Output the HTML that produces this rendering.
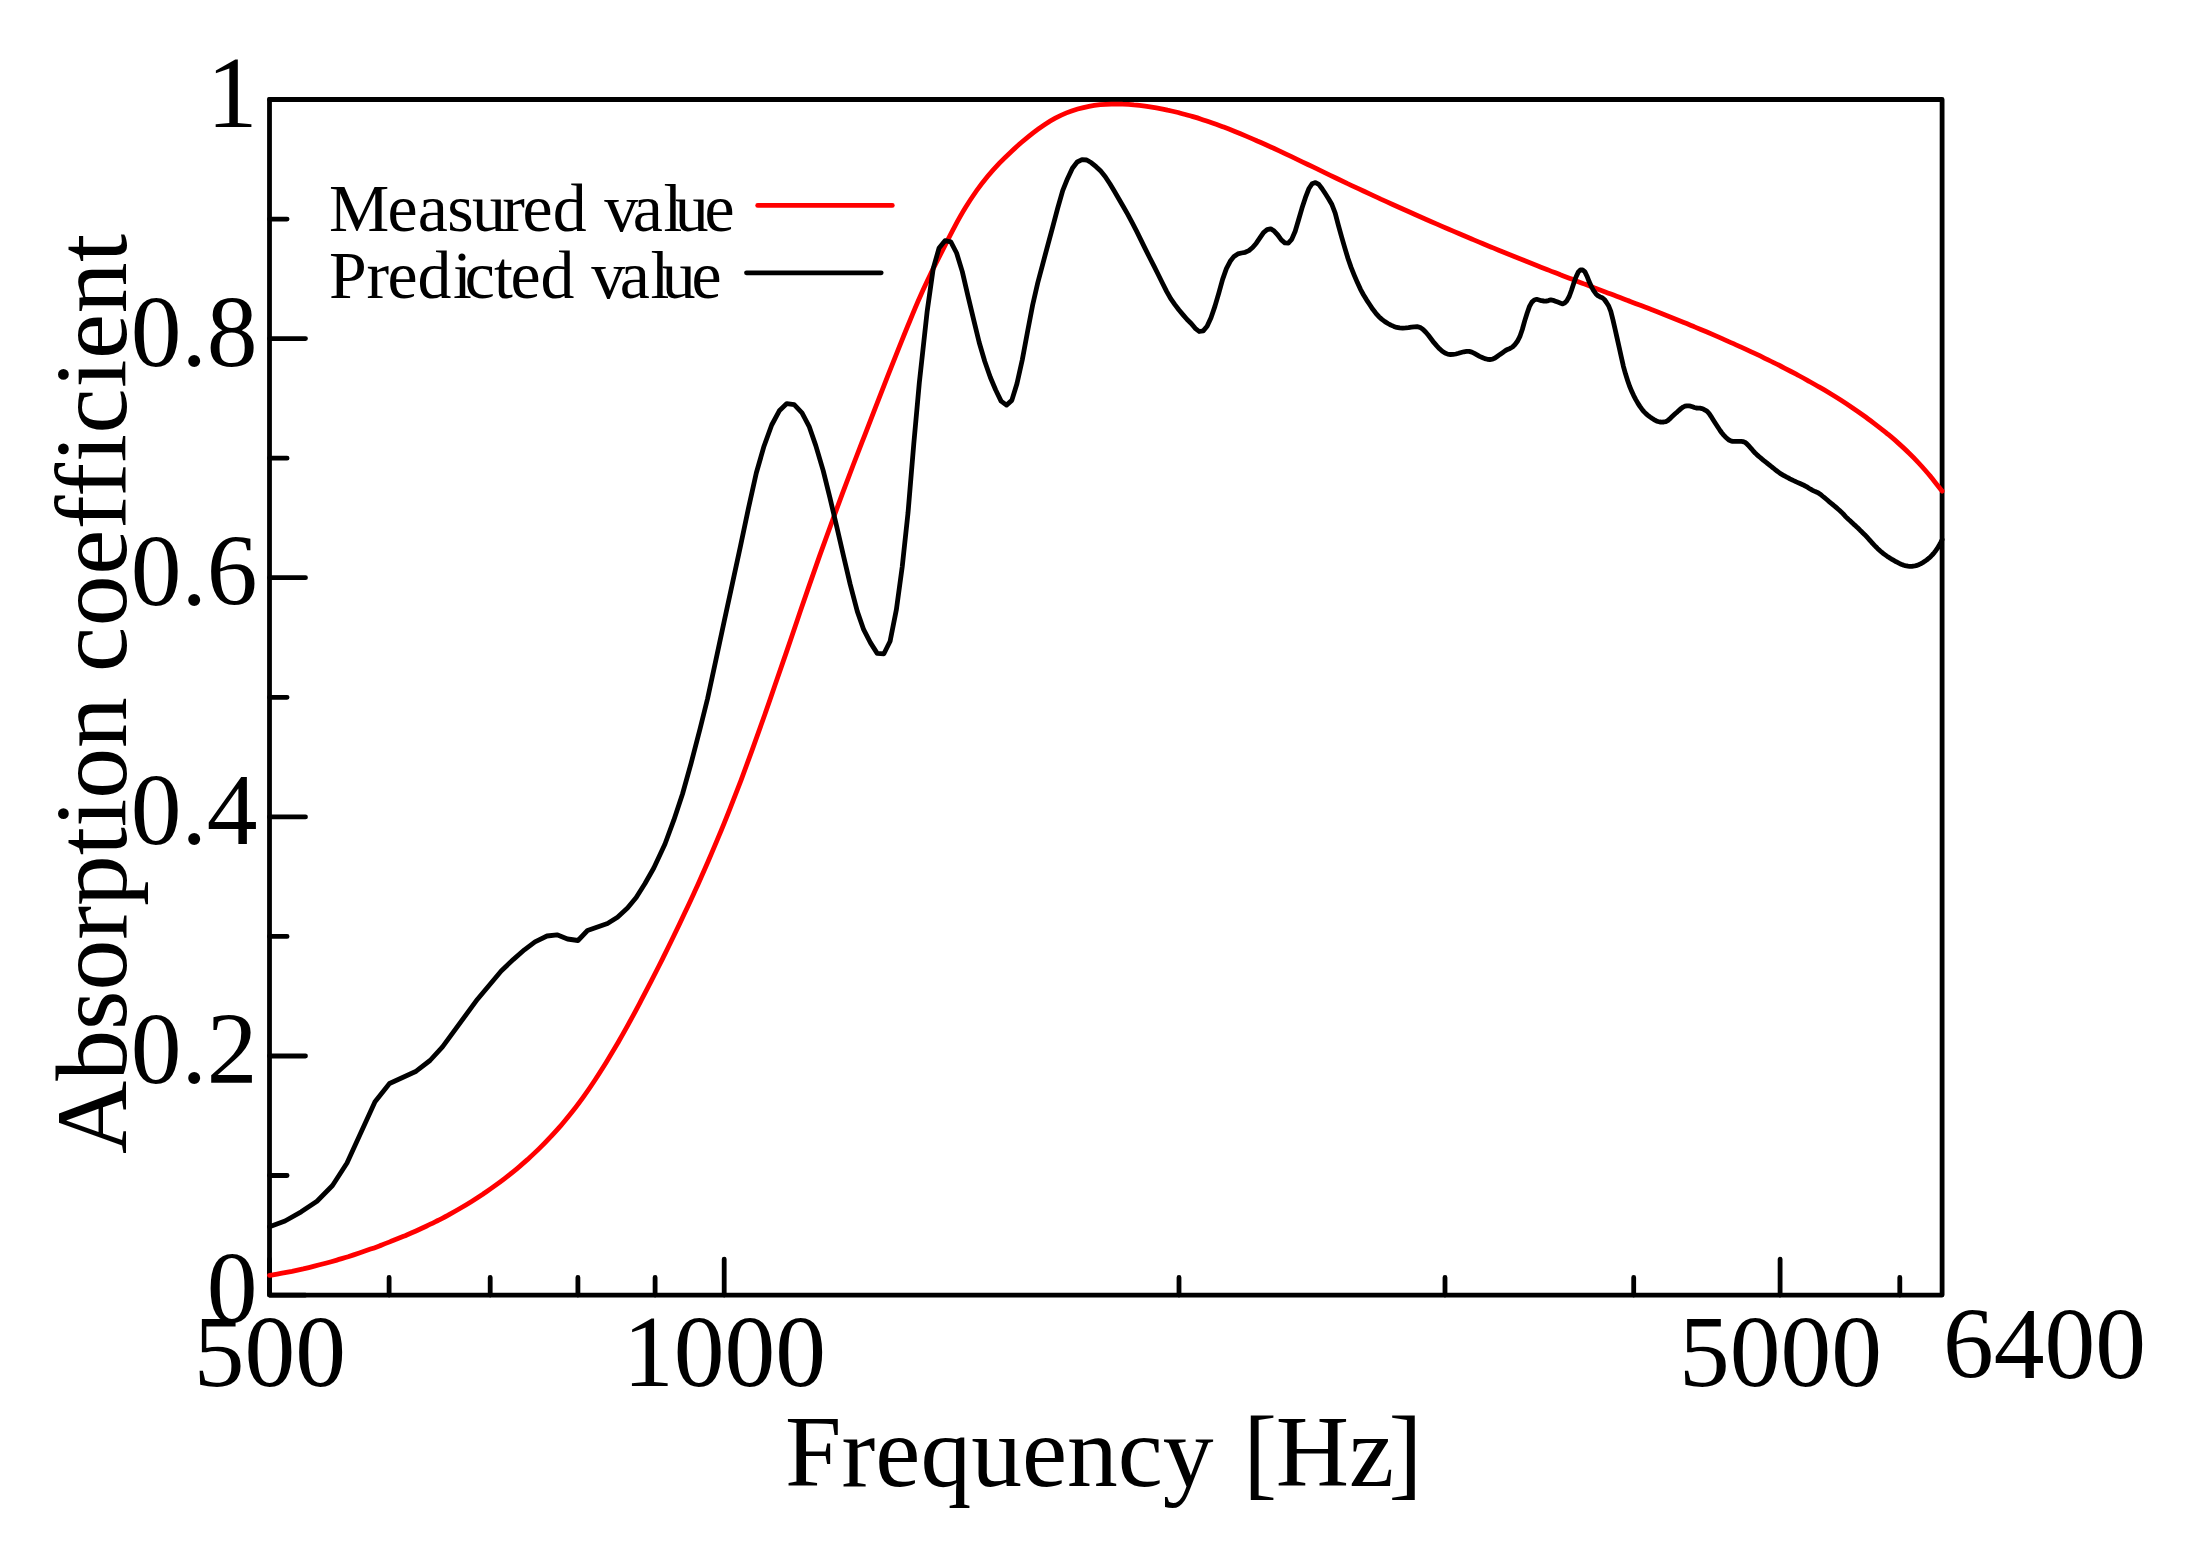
<!DOCTYPE html>
<html lang="en">
<head>
<meta charset="utf-8">
<title>Absorption coefficient vs frequency</title>
<style>
html,body{margin:0;padding:0;background:#fff;}
body{width:2196px;height:1556px;overflow:hidden;}
svg{display:block;}
text{font-family:"Liberation Serif","Times New Roman",Times,serif;fill:#000;}
.tick{font-size:101.5px;}
.key{font-size:67.8px;}
.ln{fill:none;stroke-width:4.8;stroke-linecap:round;stroke-linejoin:round;}
</style>
</head>
<body>
<svg width="2196" height="1556" viewBox="0 0 2196 1556">
<rect x="0" y="0" width="2196" height="1556" fill="#fff"/>
<path class="ln" stroke="#000" d="M269.5 1295.1h36M269.5 1175.5h17.6M269.5 1056h36M269.5 936.4h17.6M269.5 816.9h36M269.5 697.3h17.6M269.5 577.7h36M269.5 458.2h17.6M269.5 338.6h36M269.5 219.1h17.6M269.5 99.5h36M269.5 1295.1v-36M389.1 1295.1v-17.6M490.2 1295.1v-17.6M577.9 1295.1v-17.6M655.1 1295.1v-17.6M724.2 1295.1v-36M1179 1295.1v-17.6M1445 1295.1v-17.6M1633.7 1295.1v-17.6M1780.1 1295.1v-36M1899.8 1295.1v-17.6"/>
<rect class="ln" stroke="#000" stroke-linejoin="miter" x="269.5" y="99.5" width="1672.6" height="1195.6"/>
<path class="ln" stroke="#f00" d="M269.5 1275.4C271.4 1275.1 277 1274.1 280.7 1273.4C284.5 1272.7 288.2 1272 292 1271.3C295.7 1270.5 299.4 1269.7 303.2 1268.9C306.9 1268 310.7 1267.1 314.4 1266.2C318.1 1265.3 321.9 1264.3 325.6 1263.3C329.4 1262.2 333.1 1261.2 336.9 1260.1C340.6 1259 344.3 1257.8 348.1 1256.7C351.8 1255.5 355.6 1254.2 359.3 1253C363 1251.7 366.8 1250.4 370.5 1249.1C374.3 1247.8 378 1246.4 381.8 1245C385.5 1243.6 389.2 1242.1 393 1240.6C396.7 1239.1 400.5 1237.6 404.2 1236.1C407.9 1234.5 411.7 1232.9 415.4 1231.2C419.2 1229.5 422.9 1227.8 426.7 1226C430.4 1224.3 434.1 1222.4 437.9 1220.5C441.6 1218.6 445.4 1216.7 449.1 1214.6C452.8 1212.6 456.6 1210.5 460.3 1208.3C464.1 1206.1 467.8 1203.9 471.6 1201.5C475.3 1199.2 479 1196.8 482.8 1194.3C486.5 1191.7 490.3 1189.1 494 1186.4C497.8 1183.7 501.5 1181 505.2 1178.1C509 1175.2 512.7 1172.2 516.5 1169.1C520.2 1166 523.9 1162.7 527.7 1159.4C531.4 1156 535.2 1152.5 538.9 1148.9C542.7 1145.2 546.4 1141.4 550.1 1137.4C553.9 1133.5 557.6 1129.3 561.4 1125C565.1 1120.6 568.8 1116.1 572.6 1111.3C576.3 1106.5 580.1 1101.5 583.8 1096.3C587.6 1091.1 591.3 1085.6 595 1080C598.8 1074.3 602.5 1068.4 606.3 1062.3C610 1056.2 613.7 1049.9 617.5 1043.5C621.2 1037 625 1030.4 628.7 1023.6C632.5 1016.8 636.2 1009.8 639.9 1002.8C643.7 995.7 647.4 988.5 651.2 981.2C654.9 974 658.7 966.5 662.4 959.1C666.1 951.6 669.9 944 673.6 936.3C677.4 928.6 681.1 920.8 684.8 912.8C688.6 904.9 692.3 896.8 696.1 888.6C699.8 880.3 703.6 871.9 707.3 863.3C711 854.7 714.8 845.9 718.5 836.9C722.3 827.9 726 818.7 729.7 809.3C733.5 799.8 737.2 790.1 741 780.3C744.7 770.4 748.5 760.2 752.2 749.9C755.9 739.6 759.7 729.1 763.4 718.5C767.2 707.9 770.9 697.2 774.6 686.3C778.4 675.5 782.1 664.5 785.9 653.6C789.6 642.7 793.4 631.6 797.1 620.7C800.8 609.8 804.6 598.8 808.3 588.1C812.1 577.3 815.8 566.6 819.5 556.1C823.3 545.6 827 535.2 830.8 525C834.5 514.8 838.3 504.7 842 494.7C845.7 484.7 849.5 474.8 853.2 465C857 455.2 860.7 445.5 864.5 435.8C868.2 426.1 871.9 416.4 875.7 406.8C879.4 397.2 883.2 387.7 886.9 378.2C890.6 368.7 894.4 359.2 898.1 349.9C901.9 340.5 905.6 331 909.4 322C913.1 312.9 916.8 303.9 920.6 295.5C924.3 287.1 928.1 279.3 931.8 271.6C935.5 263.9 939.3 256.8 943 249.4C946.8 242 950.5 234.3 954.3 227.3C958 220.3 961.7 213.6 965.5 207.5C969.2 201.4 973 195.8 976.7 190.5C980.4 185.3 984.2 180.5 987.9 176C991.7 171.5 995.4 167.4 999.2 163.4C1002.9 159.5 1006.6 155.9 1010.4 152.4C1014.1 148.9 1017.9 145.5 1021.6 142.3C1025.4 139.1 1029.1 136 1032.8 133.1C1036.6 130.2 1040.3 127.5 1044.1 125C1047.8 122.5 1051.5 120.2 1055.3 118.2C1059 116.2 1062.8 114.4 1066.5 112.9C1070.3 111.3 1074 110.1 1077.7 109C1081.5 107.9 1085.2 107 1089 106.3C1092.7 105.6 1096.4 105.1 1100.2 104.7C1103.9 104.4 1107.7 104.2 1111.4 104.1C1115.2 104 1118.9 104 1122.6 104.2C1126.4 104.3 1130.1 104.5 1133.9 104.9C1137.6 105.2 1141.3 105.6 1145.1 106.1C1148.8 106.6 1152.6 107.2 1156.3 107.8C1160.1 108.5 1163.8 109.2 1167.5 110.1C1171.3 110.9 1175 111.8 1178.8 112.7C1182.5 113.7 1186.2 114.7 1190 115.8C1193.7 116.9 1197.5 118 1201.2 119.2C1205 120.4 1208.7 121.7 1212.4 123C1216.2 124.3 1219.9 125.7 1223.7 127.1C1227.4 128.5 1231.2 130 1234.9 131.5C1238.6 133 1242.4 134.6 1246.1 136.1C1249.9 137.7 1253.6 139.3 1257.3 141C1261.1 142.6 1264.8 144.3 1268.6 146C1272.3 147.7 1276.1 149.4 1279.8 151.1C1283.5 152.9 1287.3 154.7 1291 156.4C1294.8 158.2 1298.5 160 1302.2 161.8C1306 163.6 1309.7 165.4 1313.5 167.2C1317.2 169 1321 170.8 1324.7 172.6C1328.4 174.4 1332.2 176.2 1335.9 178C1339.7 179.8 1343.4 181.6 1347.1 183.4C1350.9 185.1 1354.6 186.9 1358.4 188.7C1362.1 190.4 1365.9 192.2 1369.6 193.9C1373.3 195.6 1377.1 197.3 1380.8 199.1C1384.6 200.8 1388.3 202.5 1392.1 204.2C1395.8 205.9 1399.5 207.6 1403.3 209.3C1407 210.9 1410.8 212.6 1414.5 214.3C1418.2 215.9 1422 217.6 1425.7 219.2C1429.5 220.9 1433.2 222.5 1437 224.1C1440.7 225.8 1444.4 227.4 1448.2 229C1451.9 230.6 1455.7 232.2 1459.4 233.8C1463.1 235.4 1466.9 237 1470.6 238.5C1474.4 240.1 1478.1 241.7 1481.9 243.2C1485.6 244.8 1489.3 246.3 1493.1 247.9C1496.8 249.4 1500.6 251 1504.3 252.5C1508 254 1511.8 255.5 1515.5 257C1519.3 258.5 1523 260 1526.8 261.5C1530.5 263 1534.2 264.5 1538 266C1541.7 267.5 1545.5 268.9 1549.2 270.4C1552.9 271.9 1556.7 273.3 1560.4 274.8C1564.2 276.2 1567.9 277.7 1571.7 279.1C1575.4 280.5 1579.1 282 1582.9 283.4C1586.6 284.8 1590.4 286.2 1594.1 287.7C1597.9 289.1 1601.6 290.5 1605.3 291.9C1609.1 293.3 1612.8 294.8 1616.6 296.2C1620.3 297.6 1624 299 1627.8 300.5C1631.5 301.9 1635.3 303.3 1639 304.8C1642.8 306.2 1646.5 307.7 1650.2 309.1C1654 310.6 1657.7 312.1 1661.5 313.5C1665.2 315 1668.9 316.5 1672.7 318C1676.4 319.5 1680.2 321 1683.9 322.5C1687.7 324 1691.4 325.6 1695.1 327.1C1698.9 328.7 1702.6 330.2 1706.4 331.8C1710.1 333.4 1713.8 335 1717.6 336.6C1721.3 338.3 1725.1 339.9 1728.8 341.6C1732.6 343.2 1736.3 344.9 1740 346.6C1743.8 348.3 1747.5 350 1751.3 351.8C1755 353.6 1758.8 355.3 1762.5 357.1C1766.2 359 1770 360.8 1773.7 362.7C1777.5 364.5 1781.2 366.4 1784.9 368.3C1788.7 370.3 1792.4 372.2 1796.2 374.2C1799.9 376.2 1803.7 378.2 1807.4 380.3C1811.1 382.4 1814.9 384.5 1818.6 386.7C1822.4 388.8 1826.1 391 1829.8 393.3C1833.6 395.6 1837.3 397.9 1841.1 400.3C1844.8 402.7 1848.6 405.2 1852.3 407.7C1856 410.2 1859.8 412.8 1863.5 415.5C1867.3 418.2 1871 421 1874.7 423.8C1878.5 426.7 1882.2 429.6 1886 432.6C1889.7 435.7 1893.5 438.8 1897.2 442.1C1900.9 445.4 1904.7 448.8 1908.4 452.5C1912.2 456.1 1915.9 459.9 1919.6 464C1923.4 468.1 1927.1 472.4 1930.9 476.9C1934.6 481.5 1940.2 488.7 1942.1 491.1"/>
<path class="ln" stroke="#000" d="M269.5 1226.8L285 1221L301.2 1211.8L317 1201.2L332.5 1185.5L347 1163L375 1101.8L389.5 1083.5L416.2 1071.2L430 1060.5L442.5 1046.8L477.5 999.2L501.2 971L513.2 959.6L524.4 949.8L535 941.8L547 936L557 934.8L567.5 939L578 940.5L587.5 930.5L607.5 923.5L617.5 917.2L627.5 908L636.2 897.5L645 883.5L653.8 868L665 844L673.8 820.2L682.5 794L691.2 762.8L700 729L707.6 698.5L716 659.6L724.2 621.3L732.4 583.4L740.5 546.1L748.4 508.5L756.3 473L764 446.2L771.7 425L779.3 410.8L786.8 403.6L794.2 404.7L802 412.8L809.1 426.3L815.8 445.6L823.2 470.6L829.9 497.6L836.7 526.5L843.4 555.5L850.2 584.4L857.3 611.4L863.7 629.7L870.4 642.6L877.2 653.4L883.9 653.8L890.1 641.3L896.4 609.5L902.2 567L908 513.1L913.8 443.6L919.3 383L927.2 311.1L933.2 268.7L939.1 247.9L945 240.7L950.8 241.9L956.6 253L962.3 271.6L968 296.1L973.7 319.9L979.2 342.5L984.8 361.5L990.3 377.2L995.7 390L1001.1 401.1L1006.5 405.1L1011.8 400.4L1017 383.5L1022.3 359.8L1027.5 331.9L1032.6 305.3L1037.7 283L1042.8 263.8L1047.8 245.1L1052.8 226.6L1057.7 208.1L1062.7 190.6L1067.5 178.7L1072.4 168.2L1077.2 162L1082 159.7L1086.7 160L1091.4 162.8L1096.1 166.7L1100.7 171.1L1105.3 176.7L1109.9 183.7L1114.4 191.2L1118.9 199L1123.4 206.7L1127.9 214.6L1132.3 222.8L1136.7 231.4L1141 240.1L1145.3 248.9L1149.6 257.5L1153.9 265.9L1158.2 274.5L1162.4 283L1166.6 291.3L1170.7 298.7L1174.9 304.6L1179 310L1183.1 314.9L1187.1 319.5L1191.2 323.5L1195.2 328.3L1199.2 331.5L1203.2 330.9L1207.1 326.3L1211 317.8L1214.9 306.4L1218.8 293.1L1222.6 279.4L1226.4 268.6L1230.2 261.3L1234 256.4L1237.8 253.9L1241.5 253L1245.2 252.3L1248.9 250.6L1252.6 247.5L1256.3 243.2L1259.9 237.9L1263.5 232.6L1267.1 229.7L1270.7 228.8L1274.2 231.1L1277.8 235L1281.3 239.9L1284.8 242.9L1288.3 243.1L1291.7 239.4L1295.2 231.2L1298.6 219.7L1302 208.1L1305.4 197.7L1308.8 188.8L1312.1 183.8L1315.5 182.6L1318.8 184.4L1322.1 188.8L1325.4 193.8L1328.7 199L1331.9 204.5L1335.2 213.2L1338.4 225.3L1341.6 236.8L1344.8 247.9L1348 258.5L1351.1 267.4L1354.3 275.3L1357.4 282.6L1360.5 289.3L1363.6 295L1366.7 300.1L1369.8 304.8L1372.8 309.3L1375.9 313.3L1378.9 316.7L1381.9 319.4L1384.9 321.6L1387.9 323.5L1390.9 325.1L1393.9 326.4L1396.8 327.4L1399.7 327.9L1402.7 328.1L1405.6 327.9L1408.5 327.6L1411.4 327.1L1414.2 326.8L1417.1 326.7L1419.9 327.3L1422.8 329.2L1425.6 332L1428.4 335.3L1431.2 339L1434 342.7L1436.8 345.9L1439.5 348.8L1442.3 351.3L1445 353L1447.7 354.1L1450.5 354.5L1453.2 354.4L1455.9 354L1458.5 353.3L1461.2 352.5L1463.9 351.8L1466.5 351.4L1469.2 351.4L1471.8 352.1L1474.4 353.4L1477 354.9L1479.6 356.4L1482.2 357.5L1484.8 358.6L1487.4 359.3L1489.9 359.5L1492.5 359.2L1495 358L1497.5 356.2L1500 354.4L1502.5 352.7L1505 350.9L1507.5 349.4L1510 348.4L1512.5 347L1515 344.5L1517.4 341.3L1519.8 336.7L1522.3 329.5L1524.7 320.9L1527.1 313.2L1529.5 306.4L1531.9 302.1L1534.3 300L1536.7 299.3L1539.1 300L1541.4 300.7L1543.8 301L1546.1 301.2L1548.5 300.6L1550.8 299.8L1553.1 300.3L1555.4 301.2L1557.8 302.1L1560.1 303L1562.3 303.9L1564.6 303L1566.9 300.7L1569.2 296.5L1571.4 290.5L1573.7 283.4L1575.9 277.3L1578.2 272.2L1580.4 269.9L1582.6 270L1584.8 271.6L1587 276.2L1589.2 281.8L1591.4 286.6L1593.6 290.7L1595.8 293.7L1597.9 295.7L1600.1 296.9L1602.3 297.7L1604.4 299.5L1606.5 302.5L1608.7 306L1610.8 311.4L1612.9 319.6L1615 328.8L1617.1 338.1L1619.2 347.5L1621.3 357.1L1623.4 366.3L1625.5 373.8L1627.6 380.4L1629.6 386.3L1631.7 391.2L1633.7 395.6L1635.8 399.6L1637.8 403.1L1639.9 406.4L1641.9 409.2L1643.9 411.6L1645.9 413.6L1647.9 415.3L1649.9 416.9L1651.9 418.3L1653.9 419.6L1655.9 420.7L1657.9 421.5L1659.9 422L1661.8 422.1L1663.8 422L1665.8 421.6L1667.7 420.6L1669.7 418.9L1671.6 417.1L1673.5 415.3L1675.4 413.5L1677.4 411.8L1679.3 410.1L1681.2 408.4L1683.1 407.1L1685 406.2L1686.9 405.8L1688.8 405.9L1690.7 406.2L1692.5 406.8L1694.4 407.5L1696.3 408L1698.1 408.1L1700 408.2L1701.8 408.6L1703.7 409.3L1705.5 410.3L1707.4 411.6L1709.2 413.6L1711 416.3L1712.8 419.2L1714.7 422.2L1716.5 425L1718.3 427.8L1720.1 430.5L1721.9 433L1723.7 435.1L1725.4 436.9L1727.2 438.6L1729 440L1730.8 440.9L1732.5 441.3L1734.3 441.4L1736.1 441.4L1737.8 441.3L1739.5 441.3L1741.3 441.4L1743 441.6L1744.8 442.2L1746.5 443.5L1748.2 445.2L1749.9 447.1L1751.7 449.1L1753.4 451.2L1755.1 453L1756.8 454.6L1758.5 456.1L1760.2 457.5L1761.8 458.9L1763.5 460.3L1765.2 461.6L1766.9 463L1768.6 464.3L1770.2 465.6L1771.9 467L1773.6 468.3L1775.2 469.7L1776.9 471L1778.5 472.2L1780.1 473.4L1781.8 474.4L1783.4 475.3L1785 476.2L1786.7 477.1L1788.3 477.9L1789.9 478.8L1791.5 479.6L1793.1 480.4L1794.7 481.1L1796.3 481.9L1797.9 482.6L1799.5 483.3L1801.1 484L1802.7 484.7L1804.3 485.5L1805.9 486.3L1807.5 487.2L1809 488.2L1810.6 489.2L1812.2 490.1L1813.7 490.9L1815.3 491.6L1816.8 492.2L1818.4 493L1819.9 494L1821.5 495.2L1823 496.5L1824.5 497.7L1826.1 499L1827.6 500.3L1829.1 501.6L1830.6 502.8L1832.2 504.1L1833.7 505.4L1835.2 506.6L1836.7 507.9L1838.2 509.2L1839.7 510.5L1841.2 511.9L1842.7 513.4L1844.2 515L1845.6 516.6L1847.1 518.1L1848.6 519.5L1850.1 520.8L1851.6 522.2L1853 523.5L1854.5 524.9L1856 526.2L1857.4 527.6L1858.9 529L1860.3 530.4L1861.8 531.8L1863.2 533.3L1864.7 534.7L1866.1 536.2L1867.5 537.7L1869 539.3L1870.4 540.9L1871.8 542.5L1873.3 544.1L1874.7 545.6L1876.1 547L1877.5 548.4L1878.9 549.7L1880.3 551L1881.7 552.2L1883.1 553.3L1884.5 554.4L1885.9 555.4L1887.3 556.4L1888.7 557.3L1890.1 558.2L1891.5 559.1L1892.9 559.9L1894.3 560.7L1895.6 561.5L1897 562.2L1898.4 562.9L1899.8 563.6L1901.1 564.2L1902.5 564.7L1903.8 565.2L1905.2 565.6L1906.6 565.9L1907.9 566.2L1909.3 566.3L1910.6 566.4L1911.9 566.4L1913.3 566.2L1914.6 566L1916 565.7L1917.3 565.2L1918.6 564.7L1919.9 564.1L1921.3 563.5L1922.6 562.7L1923.9 561.9L1925.2 561L1926.5 560.1L1927.9 559L1929.2 557.9L1930.5 556.7L1931.8 555.4L1933.1 554L1934.4 552.4L1935.7 550.7L1937 548.9L1938.2 546.9L1939.5 544.7L1940.8 542.3L1942.1 539.7"/>
<path class="ln" stroke="#f00" d="M757.7 205.4H892.3"/>
<path class="ln" stroke="#000" d="M746.5 272.8H881.2"/>
<text class="key" y="231.1"><tspan x="328.9 387.4 417.7 447.3 472.1 502.2 522.6 552.8">Measured</tspan> <tspan x="604.2 632.8 663.6 674.7 704.6">value</tspan></text>
<text class="key" y="297.7"><tspan x="328.9 366.4 387.4 417.6 453.1 464.7 494 510.6 540.5">Predicted</tspan> <tspan x="591.2 619.8 650.6 661.7 691.6">value</tspan></text>
<text class="tick" text-anchor="end" x="257.5" y="1322.1">0</text>
<text class="tick" text-anchor="end" x="257.5" y="1083">0.2</text>
<text class="tick" text-anchor="end" x="257.5" y="843.9">0.4</text>
<text class="tick" text-anchor="end" x="257.5" y="604.7">0.6</text>
<text class="tick" text-anchor="end" x="257.5" y="365.6">0.8</text>
<text class="tick" text-anchor="end" x="257.5" y="126.5">1</text>
<text class="tick" text-anchor="middle" x="269.8" y="1385.5">500</text>
<text class="tick" text-anchor="middle" x="724.5" y="1385.5">1000</text>
<text class="tick" text-anchor="middle" x="1780.4" y="1385.5">5000</text>
<text class="tick" x="1943" y="1378">6400</text>
<text class="tick" text-anchor="middle" x="1103.75" y="1486" dx="0 0 0 0 0 0 0 0 0 0 4.4 -1.4 0 -5.5">Frequency [Hz]</text>
<text class="tick" transform="translate(126.4 1154) rotate(-90)">Absorption <tspan style="letter-spacing:0.6px">coefficient</tspan></text>
</svg>
</body>
</html>
